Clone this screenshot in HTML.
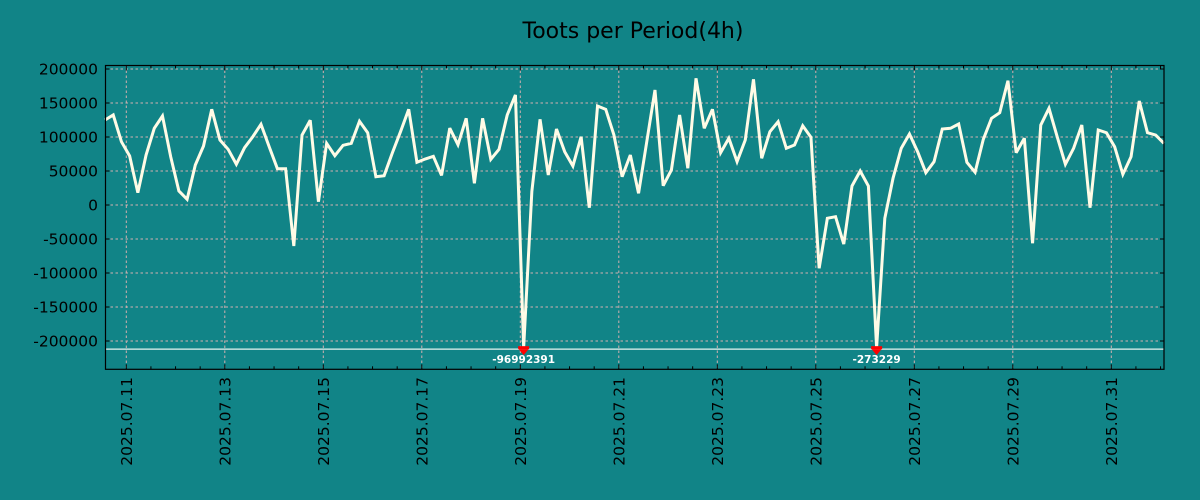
<!DOCTYPE html>
<html><head><meta charset="utf-8"><style>
html,body{margin:0;padding:0;background:#118487;}
svg{display:block;font-family:"DejaVu Sans","Liberation Sans",sans-serif;}
</style></head><body>
<svg id="chart" width="1200" height="500" viewBox="0 0 1200 500" xmlns="http://www.w3.org/2000/svg">
<rect x="0" y="0" width="1200" height="500" fill="#118487"/>
<text x="633" y="38" text-anchor="middle" font-size="22" fill="#000">Toots per Period(4h)</text>
<g id="grid"></g>
<g id="cap"></g>
<g id="series"></g>
<g id="markers"></g>
<rect x="105.5" y="65.5" width="1058.5" height="303.8" fill="none" stroke="#000" stroke-width="1.2"/>
<g id="axes"></g>
</svg>
<script>
const values = [125000,132400,93100,72100,18100,73500,112800,130900,71000,20600,8400,58800,86800,140700,95600,81900,59900,84300,100400,118700,85700,53400,53400,-60300,102900,124600,4900,90700,72500,87800,90700,123100,106300,41600,43100,76500,107800,140700,62800,67600,71600,43500,113000,88700,127500,31900,127500,67200,81900,132400,161800,-96992391,20000,126000,44100,111800,78400,57400,100400,-4000,145600,140700,102900,41600,73500,17200,93100,169100,28400,51500,132400,54000,186300,112800,140700,76900,98100,63700,95600,184900,68700,107800,122500,83400,88200,116500,99600,-93100,-19600,-17200,-57400,27900,50000,27900,-273229,-19600,39300,83400,104400,78400,47500,63700,111800,112800,119100,62800,48100,96600,127500,135700,182800,76900,98100,-56300,117600,142200,100400,59900,83400,117600,-4000,110300,106300,85700,45100,71000,152900,106300,102900,90700];
const yTicks = [200000,150000,100000,50000,0,-50000,-100000,-150000,-200000];
const xTickLabels = ["2025.07.11","2025.07.13","2025.07.15","2025.07.17","2025.07.19","2025.07.21","2025.07.23","2025.07.25","2025.07.27","2025.07.29","2025.07.31"];
const startHoursBefore0711 = -10.37;
const periodHours = 4;
const clipFloor = -210000;
const capValue = -212000;

const NS = "http://www.w3.org/2000/svg";
const L = 105.5, R = 1164, T = 65.5, B = 369.3;
function y(v){ return 205 - v * 34 / 50000; }
function xHours(h){ return 126.3 + h * 49.25 / 24; }
function xIdx(i){ return xHours(startHoursBefore0711 + periodHours * i); }
function mk(tag, attrs, parent){ const e = document.createElementNS(NS, tag); for (const k in attrs) e.setAttribute(k, attrs[k]); parent.appendChild(e); return e; }

const grid = document.getElementById('grid');
const axes = document.getElementById('axes');
yTicks.forEach(v => {
  const gl = mk('line', {x1:L, x2:R, y1:y(v), y2:y(v), stroke:'#d4b0b0', 'stroke-width':1, 'stroke-dasharray':'2.5,2.5'}, grid);
  
  
  mk('line', {x1:L, x2:L+4, y1:y(v), y2:y(v), stroke:'#000'}, axes);
  mk('line', {x1:R-4, x2:R, y1:y(v), y2:y(v), stroke:'#000'}, axes);
  const t = mk('text', {x:98, y:y(v)+5.5, 'text-anchor':'end', 'font-size':15.5, fill:'#000'}, axes);
  t.textContent = v;
  
  
});
xTickLabels.forEach((lab, k) => {
  const xx = xHours(k * 48);
  const gl = mk('line', {x1:xx, x2:xx, y1:T, y2:B, stroke:'#d4b0b0', 'stroke-width':1, 'stroke-dasharray':'2.5,2.5'}, grid);
  
  
  const t = mk('text', {x:0, y:0, 'text-anchor':'end', 'font-size':15.5, fill:'#000', transform:`translate(${xx+5.5},377) rotate(-90)`}, axes);
  t.textContent = lab;
  
  
});
for (let h = -12; h <= 22*24; h += 12) {
  const xx = xHours(h);
  if (xx < L || xx > R) continue;
  const len = (h % 48 === 0) ? 5 : 3;
  mk('line', {x1:xx, x2:xx, y1:B, y2:B-len, stroke:'#000'}, axes);
  mk('line', {x1:xx, x2:xx, y1:T, y2:T+len, stroke:'#000'}, axes);
}
const cap = mk('line', {x1:L, x2:R, y1:y(capValue), y2:y(capValue), stroke:'#e8f4f0', 'stroke-width':1.3}, document.getElementById('cap'));



const pts = values.map((v, i) => `${xIdx(i).toFixed(2)},${y(Math.max(v, clipFloor)).toFixed(2)}`).join(' ');
const line = mk('polyline', {points:pts, fill:'none', stroke:'#fffbe6', 'stroke-width':3, 'stroke-linejoin':'miter', 'stroke-miterlimit':3}, document.getElementById('series'));



const markers = document.getElementById('markers');
values.forEach((v, i) => {
  if (v >= clipFloor) return;
  const xx = xIdx(i), yy = y(capValue);
  const g = mk('g', {}, markers);
  
  
  mk('rect', {x:xx-5.5, y:yy-3, width:11, height:3, fill:'#ff0000'}, g);
  mk('polygon', {points:`${xx-5},${yy} ${xx+5},${yy} ${xx},${yy+6}`, fill:'#ff0000'}, g);
  const t = mk('text', {x:xx, y:yy+14, 'text-anchor':'middle', 'font-size':10.5, 'font-weight':'bold', fill:'#fff'}, g);
  t.textContent = v;
  
  
});
</script>
</body></html>
